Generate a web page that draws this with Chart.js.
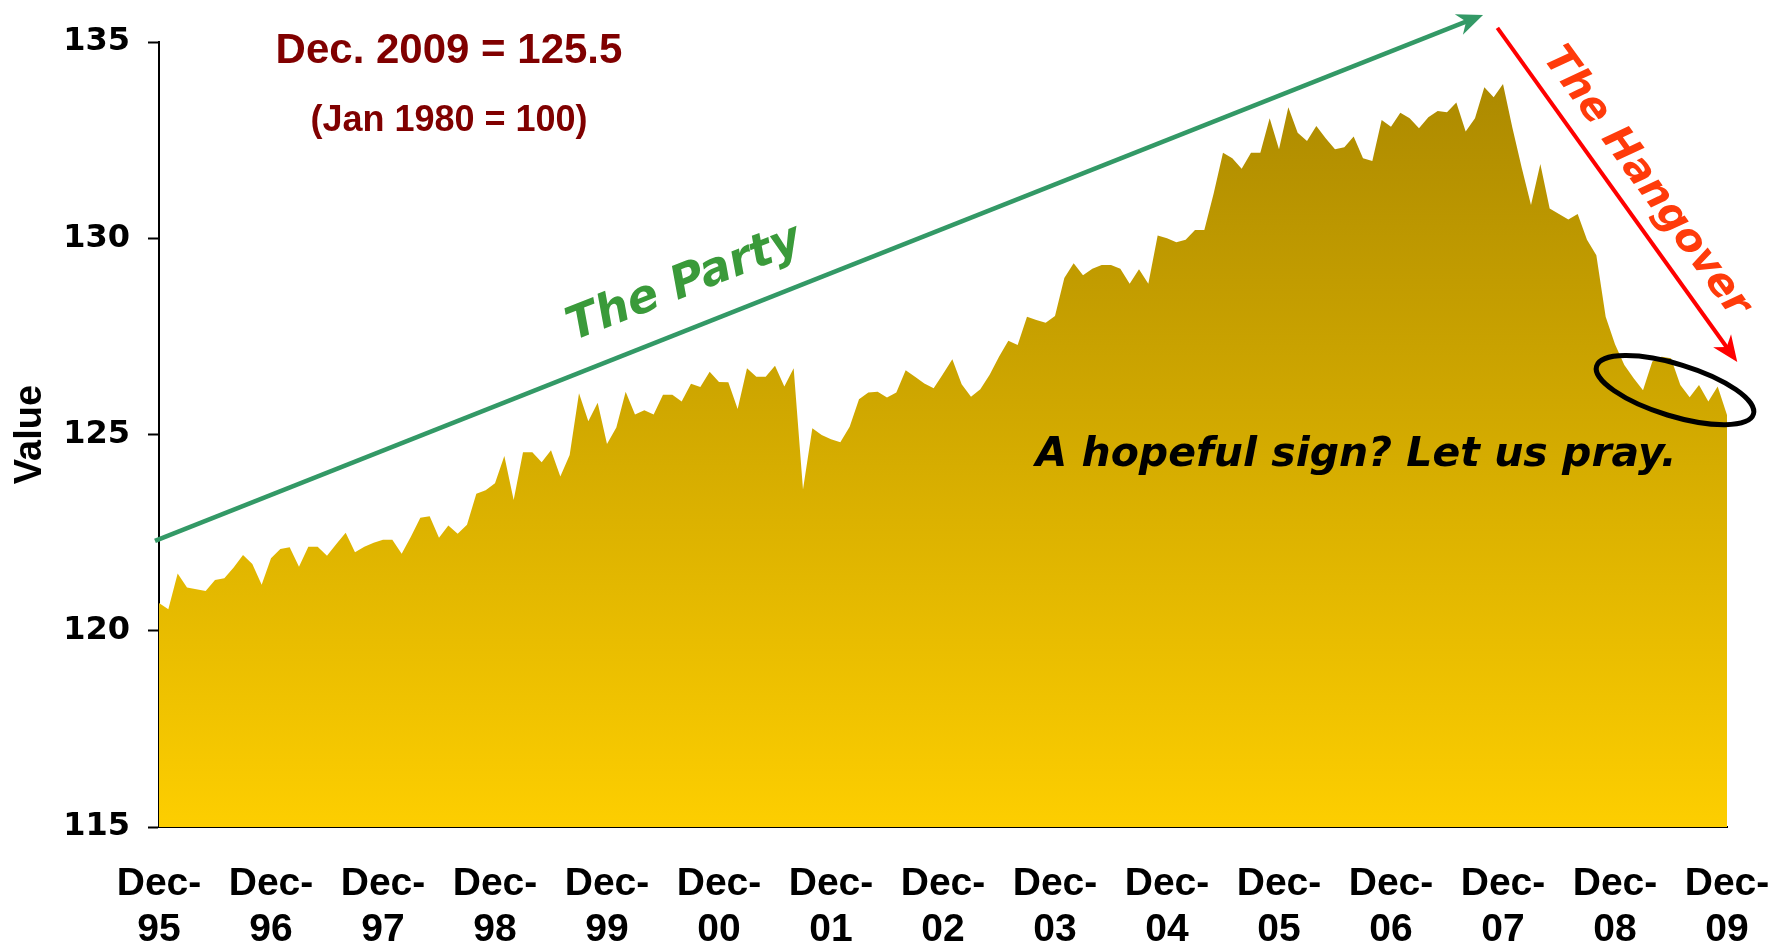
<!DOCTYPE html>
<html>
<head>
<meta charset="utf-8">
<script src="https://cdn.jsdelivr.net/npm/chart.js@4.4.1/dist/chart.umd.min.js"></script>
<style>
  html, body { margin: 0; padding: 0; background: #fff; }
</style>
</head>
<body>
<canvas id="myChart" width="1784" height="948"></canvas>
<script>
// tick labels under the x axis, one per December
const yearLabels = ['95', '96', '97', '98', '99', '00', '01', '02', '03', '04', '05', '06', '07', '08', '09'];

// monthly index values, Dec of one year through Dec of the next
const dec95 = [120.71];
const y1996 = [120.55, 121.46, 121.10, 121.06, 121.01, 121.29, 121.34, 121.61, 121.93, 121.70, 121.17, 121.85];
const y1997 = [122.08, 122.13, 121.63, 122.14, 122.14, 121.91, 122.21, 122.50, 122.00, 122.14, 122.24, 122.32];
const y1998 = [122.32, 121.96, 122.40, 122.88, 122.92, 122.37, 122.68, 122.47, 122.70, 123.49, 123.58, 123.76];
const y1999 = [124.45, 123.33, 124.55, 124.55, 124.29, 124.60, 123.93, 124.48, 126.05, 125.34, 125.81, 124.76];
const y2000 = [125.18, 126.09, 125.51, 125.62, 125.51, 126.01, 126.01, 125.84, 126.29, 126.21, 126.60, 126.34];
const y2001 = [126.33, 125.65, 126.69, 126.47, 126.47, 126.75, 126.22, 126.69, 123.60, 125.16, 124.99, 124.88];
const y2002 = [124.80, 125.20, 125.90, 126.07, 126.09, 125.94, 126.07, 126.64, 126.47, 126.30, 126.18, 126.54];
const y2003 = [126.92, 126.28, 125.96, 126.15, 126.52, 126.98, 127.39, 127.28, 128.00, 127.92, 127.85, 128.02];
const y2004 = [128.99, 129.36, 129.06, 129.22, 129.32, 129.32, 129.22, 128.84, 129.21, 128.84, 130.07, 130.00];
const y2005 = [129.90, 129.96, 130.21, 130.21, 131.14, 132.18, 132.04, 131.77, 132.18, 132.18, 133.06, 132.27];
const y2006 = [133.34, 132.69, 132.48, 132.86, 132.55, 132.27, 132.32, 132.59, 132.04, 131.97, 133.01, 132.84];
const y2007 = [133.20, 133.06, 132.80, 133.08, 133.24, 133.21, 133.46, 132.72, 133.06, 133.85, 133.59, 133.93];
const y2008 = [132.82, 131.80, 130.85, 131.89, 130.76, 130.62, 130.48, 130.62, 129.96, 129.57, 128.00, 127.30];
const y2009 = [126.77, 126.43, 126.13, 126.86, 126.98, 126.94, 126.26, 125.95, 126.26, 125.84, 126.22, 125.50];

const values = [].concat(dec95, y1996, y1997, y1998, y1999, y2000, y2001, y2002, y2003, y2004, y2005, y2006, y2007, y2008, y2009);
const points = values.map((v, i) => ({ x: i, y: v }));

const darkRed = '#800000';

// annotation marks, placed in chart units (month index, index value)
const partyArrow = { from: [-0.43, 122.29], to: [141.86, 135.69], color: '#339966', width: 4.5 };
const hangoverArrow = { from: [143.4, 135.36], to: [169.1, 126.85], color: '#ff0000', width: 4 };
const hopeRing = { at: [162.43, 126.13], rx: 82, ry: 26, angle: 17 };

function drawArrow(ctx, x1, y1, x2, y2, color, width) {
    const a = Math.atan2(y2 - y1, x2 - x1);
    const head = 26, half = 11;
    ctx.save();
    ctx.strokeStyle = color;
    ctx.fillStyle = color;
    ctx.lineWidth = width;
    ctx.beginPath();
    ctx.moveTo(x1, y1);
    ctx.lineTo(x2 - Math.cos(a) * head * 0.6, y2 - Math.sin(a) * head * 0.6);
    ctx.stroke();
    ctx.translate(x2, y2);
    ctx.rotate(a);
    ctx.beginPath();
    ctx.moveTo(0, 0);
    ctx.lineTo(-head, -half);
    ctx.lineTo(-head * 0.7, 0);
    ctx.lineTo(-head, half);
    ctx.closePath();
    ctx.fill();
    ctx.restore();
}

function drawText(ctx, text, x, y, font, color, angle) {
    ctx.save();
    ctx.translate(x, y);
    ctx.rotate((angle || 0) * Math.PI / 180);
    ctx.font = font;
    ctx.fillStyle = color;
    ctx.textAlign = 'center';
    ctx.textBaseline = 'middle';
    ctx.fillText(text, 0, 0);
    ctx.restore();
}

const notesPlugin = {
    id: 'notes',
    afterDraw(chart) {
        const ctx = chart.ctx;
        const xs = chart.scales.x, ys = chart.scales.y;
        const px = (p) => [xs.getPixelForValue(p[0]), ys.getPixelForValue(p[1])];

        let a = px(partyArrow.from), b = px(partyArrow.to);
        drawArrow(ctx, a[0], a[1], b[0], b[1], partyArrow.color, partyArrow.width);
        a = px(hangoverArrow.from); b = px(hangoverArrow.to);
        drawArrow(ctx, a[0], a[1], b[0], b[1], hangoverArrow.color, hangoverArrow.width);

        const c = px(hopeRing.at);
        ctx.save();
        ctx.strokeStyle = '#000';
        ctx.lineWidth = 5;
        ctx.beginPath();
        ctx.ellipse(c[0], c[1], hopeRing.rx, hopeRing.ry, hopeRing.angle * Math.PI / 180, 0, Math.PI * 2);
        ctx.stroke();
        ctx.restore();

        const comic = '"Comic Sans MS", "DejaVu Sans", sans-serif';
        let p = px([31.07, 134.77]);
        drawText(ctx, 'Dec. 2009 = 125.5', p[0], p[1], 'bold 42px "Liberation Sans", Arial, sans-serif', darkRed, 0);
        p = px([31.07, 132.99]);
        drawText(ctx, '(Jan 1980 = 100)', p[0], p[1], 'bold 36px "Liberation Sans", Arial, sans-serif', darkRed, 0);
        p = px([56.3, 128.83]);
        drawText(ctx, 'The Party', p[0], p[1], 'italic bold 46px ' + comic, '#3a9a3a', -21.5);
        p = px([159.3, 131.43]);
        drawText(ctx, 'The Hangover', p[0], p[1], 'italic bold 41px ' + comic, '#ff3b0a', 54);
        p = px([128.25, 124.48]);
        drawText(ctx, 'A hopeful sign? Let us pray.', p[0], p[1], 'italic bold 41px ' + comic, '#000', 0);
    }
};

const ctx = document.getElementById('myChart').getContext('2d');

const data = {
    datasets: [{
        label: 'Value',
        data: points,
        fill: 'start',
        borderWidth: 0,
        borderColor: 'rgba(0,0,0,0)',
        pointRadius: 0,
        tension: 0,
        backgroundColor: (context) => {
            const area = context.chart.chartArea;
            if (!area) return '#d4a800';
            const g = context.chart.ctx.createLinearGradient(0, area.top, 0, area.bottom);
            g.addColorStop(0, '#a88600');
            g.addColorStop(1, '#fdce00');
            return g;
        }
    }]
};

const config = {
    type: 'line',
    data: data,
    options: {
        responsive: false,
        animation: false,
        layout: { padding: { left: 0, right: 57, top: 42, bottom: 0 } },
        plugins: {
            legend: { display: false },
            tooltip: { enabled: false }
        },
        scales: {
            x: {
                type: 'linear',
                min: 0,
                max: 168,
                afterFit: (scale) => {
                    scale.height = 121;
                    scale.paddingLeft = 0;
                    scale.paddingRight = 0;
                },
                grid: { display: false, drawTicks: false, tickLength: 0 },
                border: { display: true, color: '#000', width: 2 },
                ticks: {
                    stepSize: 12,
                    autoSkip: false,
                    maxRotation: 0,
                    minRotation: 0,
                    padding: 34,
                    color: '#000',
                    font: { family: '"Liberation Sans", Arial, sans-serif', size: 39, weight: 'bold', lineHeight: 1.18 },
                    callback: (v) => ['Dec-', yearLabels[Math.round(v / 12)]]
                }
            },
            y: {
                min: 115,
                max: 135,
                afterFit: (scale) => {
                    scale.width = 159;
                    scale.paddingTop = 0;
                    scale.paddingBottom = 0;
                },
                grid: { drawOnChartArea: false, drawTicks: true, tickLength: 11, tickColor: '#000', tickWidth: 2 },
                border: { display: true, color: '#000', width: 2 },
                ticks: {
                    stepSize: 5,
                    padding: 18,
                    color: '#000',
                    font: { family: '"DejaVu Sans", sans-serif', size: 32, weight: 'bold' }
                },
                title: {
                    display: true,
                    text: 'Value',
                    color: '#000',
                    padding: { top: 8, bottom: 0 },
                    font: { family: '"Liberation Sans", Arial, sans-serif', size: 38, weight: 'bold' }
                }
            }
        }
    },
    plugins: [notesPlugin]
};

const myChart = new Chart(ctx, config);
</script>
</body>
</html>
